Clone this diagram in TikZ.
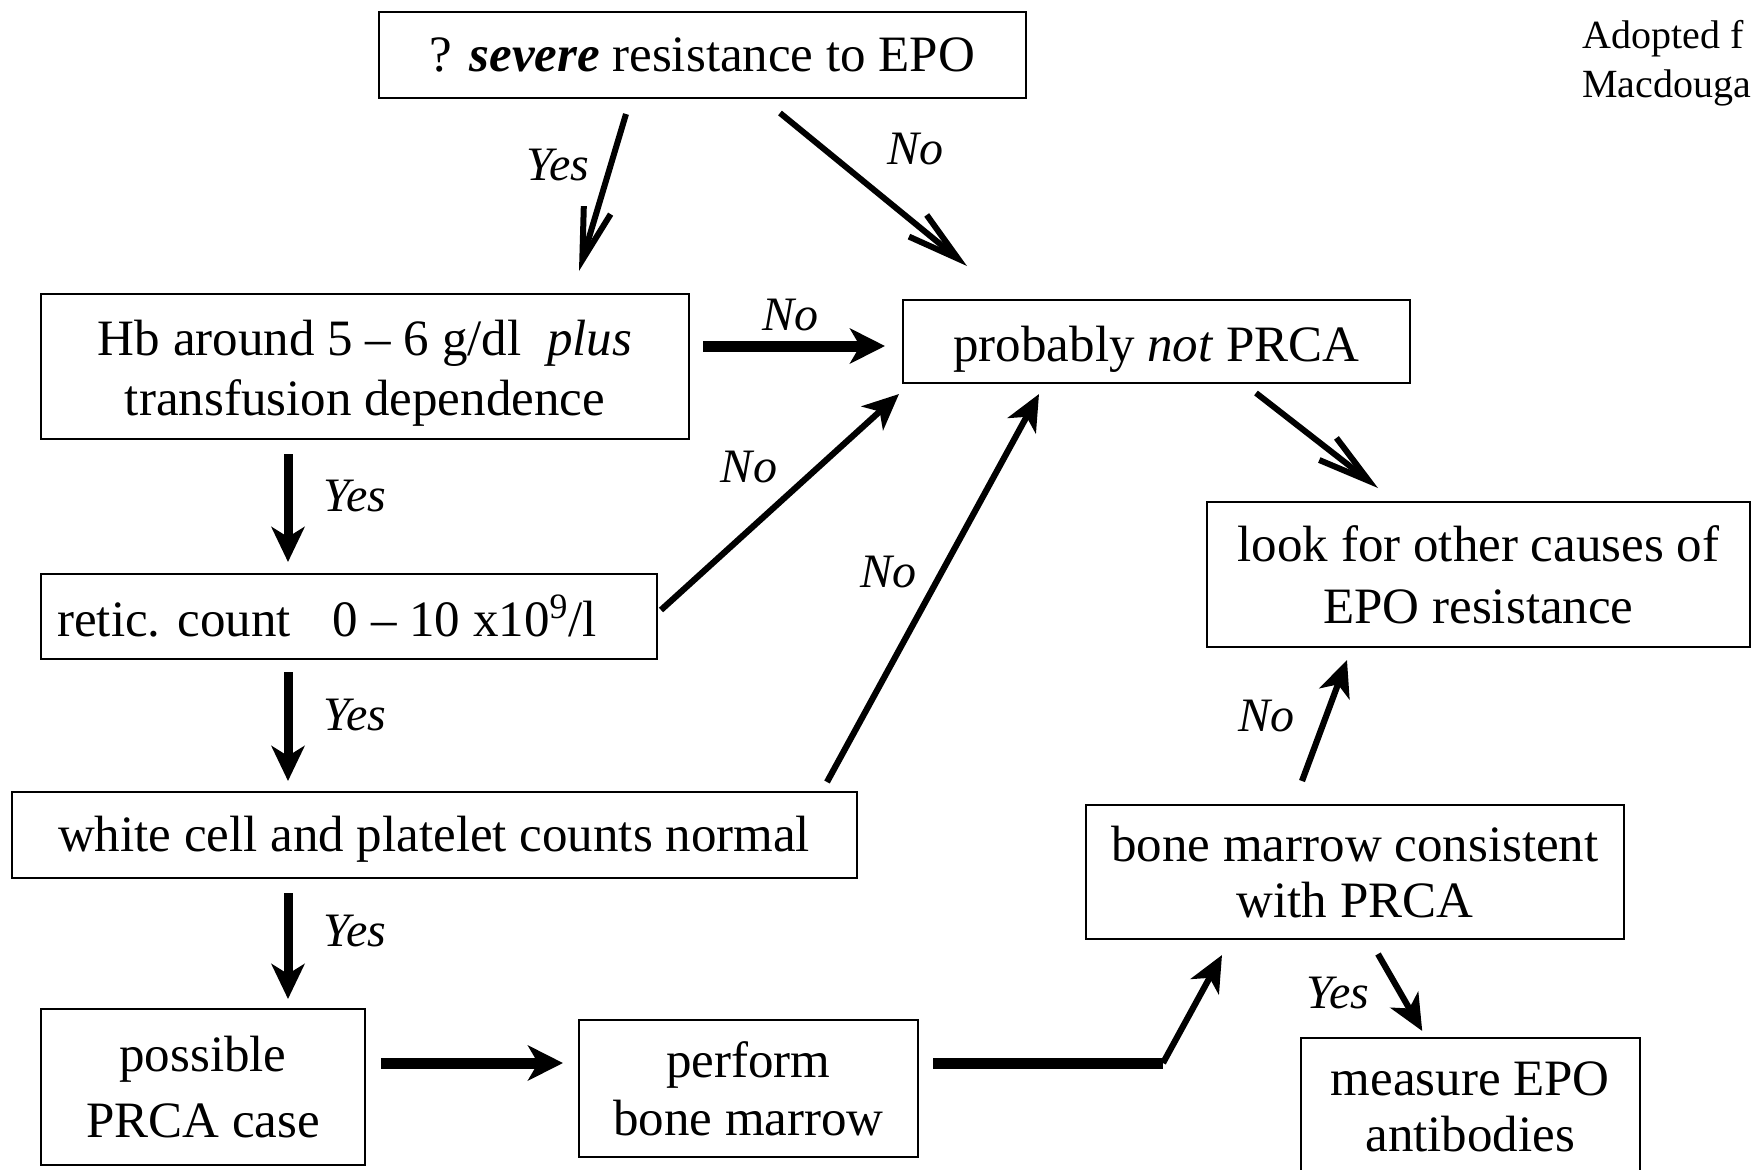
\documentclass[tikz,border=0pt]{standalone}
\usepackage{fontspec}
\setmainfont{Liberation Serif}
\usetikzlibrary{arrows.meta,calc}
\newcommand{\upstrut}[1]{\rule{0pt}{#1}}
\begin{document}
\begin{tikzpicture}[x=0.5pt,y=-0.5pt,
  box/.style={draw, line width=1pt, inner sep=0pt, align=center, font=\fontsize{25.5}{31}\selectfont},
  lbl/.style={inner sep=0pt, font=\fontsize{24}{28}\selectfont\itshape},
  barb/.style={line width=3pt, -{Straight Barb[length=26pt,width=14pt]}},
  thinarr/.style={line width=3.1pt, -{Stealth[length=18pt,width=16pt,inset=5pt]}},
  vert/.style={line width=4.5pt, -{Stealth[length=17.5pt,width=16.5pt,inset=5pt]}},
  fatarrow/.style={line width=5.5pt, -{Stealth[length=17.5pt,width=17.5pt,inset=5pt]}},
]
\useasboundingbox[fill=white] (0,0) rectangle (1752,1169);

% boxes
\node[box, minimum width=323.5pt, minimum height=43pt] (top) at (702.5,55)
  {? \textbf{\textit{severe}} resistance to EPO};
\node[box, minimum width=324pt, minimum height=72.5pt, font=\fontsize{25.5}{30}\selectfont] (hb) at (365,366.5)
  {\upstrut{24pt}Hb around 5 – 6 g/dl~~\textit{plus}\\transfusion dependence};
\node[box, minimum width=253.5pt, minimum height=41.5pt] (prob) at (1156.5,341.5)
  {\upstrut{25pt}probably \textit{not} PRCA};
\node[box, minimum width=271.5pt, minimum height=72.5pt] (look) at (1478.5,574.5)
  {look for other causes of\\EPO resistance};
\node[box, minimum width=308pt, minimum height=42.5pt] (retic) at (349,616.5)
  {retic. count\hspace{21pt}0 – 10 x10\textsuperscript{9}/l\hspace*{22pt}};
\node[box, minimum width=422.5pt, minimum height=43pt] (white) at (434,835)
  {\upstrut{22pt}white cell and platelet counts normal};
\node[box, minimum width=161.75pt, minimum height=78pt, font=\fontsize{25.5}{33}\selectfont] (possible) at (203,1087)
  {possible\\PRCA case};
\node[box, minimum width=169.5pt, minimum height=68.5pt, font=\fontsize{25.5}{29}\selectfont] (perform) at (748.5,1088.5)
  {perform\\bone marrow};
\node[box, minimum width=269pt, minimum height=67pt, font=\fontsize{25.5}{28}\selectfont] (bmc) at (1355,872)
  {bone marrow consistent\\with PRCA};
\node[box, minimum width=169.75pt, minimum height=69pt, font=\fontsize{25.5}{28}\selectfont] (measure) at (1470.25,1107)
  {measure EPO\\antibodies};

% note
\node[anchor=base west, inner sep=0pt, font=\fontsize{20}{24}\selectfont] (ad1) at (1582,48) {Adopted f};
\node[anchor=base west, inner sep=0pt, font=\fontsize{20}{24}\selectfont] (ad2) at (1582,97) {Macdouga};

% connectors
\draw[barb] ($(top.south)+(-76.5,15)$) -- ($(hb.north)+(214,-22)$);
\draw[barb] ($(top.south)+(77.5,14)$) -- ($(prob.north)+(-189.5,-33)$);
\draw[fatarrow] ($(hb.east)+(13,-20.5)$) -- ($(prob.west)+(-17,4.5)$);
\draw[vert] ($(hb.south)+(-77,14)$) -- ($(retic.north)+(-61,-11)$);
\draw[thinarr] ($(retic.east)+(3,-6.5)$) -- ($(prob.south)+(-257.5,10)$);
\draw[vert] ($(retic.south)+(-61,12)$) -- ($(white.north)+(-146,-10)$);
\draw[thinarr] ($(white.north)+(393,-9)$) -- ($(prob.south)+(-117.5,10)$);
\draw[barb] ($(prob.south)+(99.5,9)$) -- ($(look.north)+(-100.5,-13)$);
\draw[vert] ($(white.south)+(-146,14)$) -- ($(possible.north)+(85,-9)$);
\draw[fatarrow] ($(possible.east)+(15,-24)$) -- ($(perform.west)+(-15,-25.5)$);
\coordinate (bend) at (1163,1063);
\draw[line width=5.5pt] ($(perform.east)+(14,-25.5)$) -- (bend);
\draw[thinarr] (bend) -- ($(bmc.south)+(-133,15)$);
\draw[thinarr] ($(bmc.north)+(-53,-23)$) -- ($(look.south)+(-131.5,12)$);
\draw[thinarr] ($(bmc.south)+(23,14)$) -- ($(measure.north)+(-48,-6)$);

% labels
\node[lbl] (l1) at (558,165) {Yes};
\node[lbl] (l2) at (915,149) {No};
\node[lbl] (l3) at (790,315) {No};
\node[lbl] (l4) at (355,496) {Yes};
\node[lbl] (l5) at (749,467) {No};
\node[lbl] (l6) at (355,715) {Yes};
\node[lbl] (l7) at (888,572) {No};
\node[lbl] (l8) at (355,931) {Yes};
\node[lbl] (l9) at (1266,716) {No};
\node[lbl] (l10) at (1338,993) {Yes};
\end{tikzpicture}
\end{document}
